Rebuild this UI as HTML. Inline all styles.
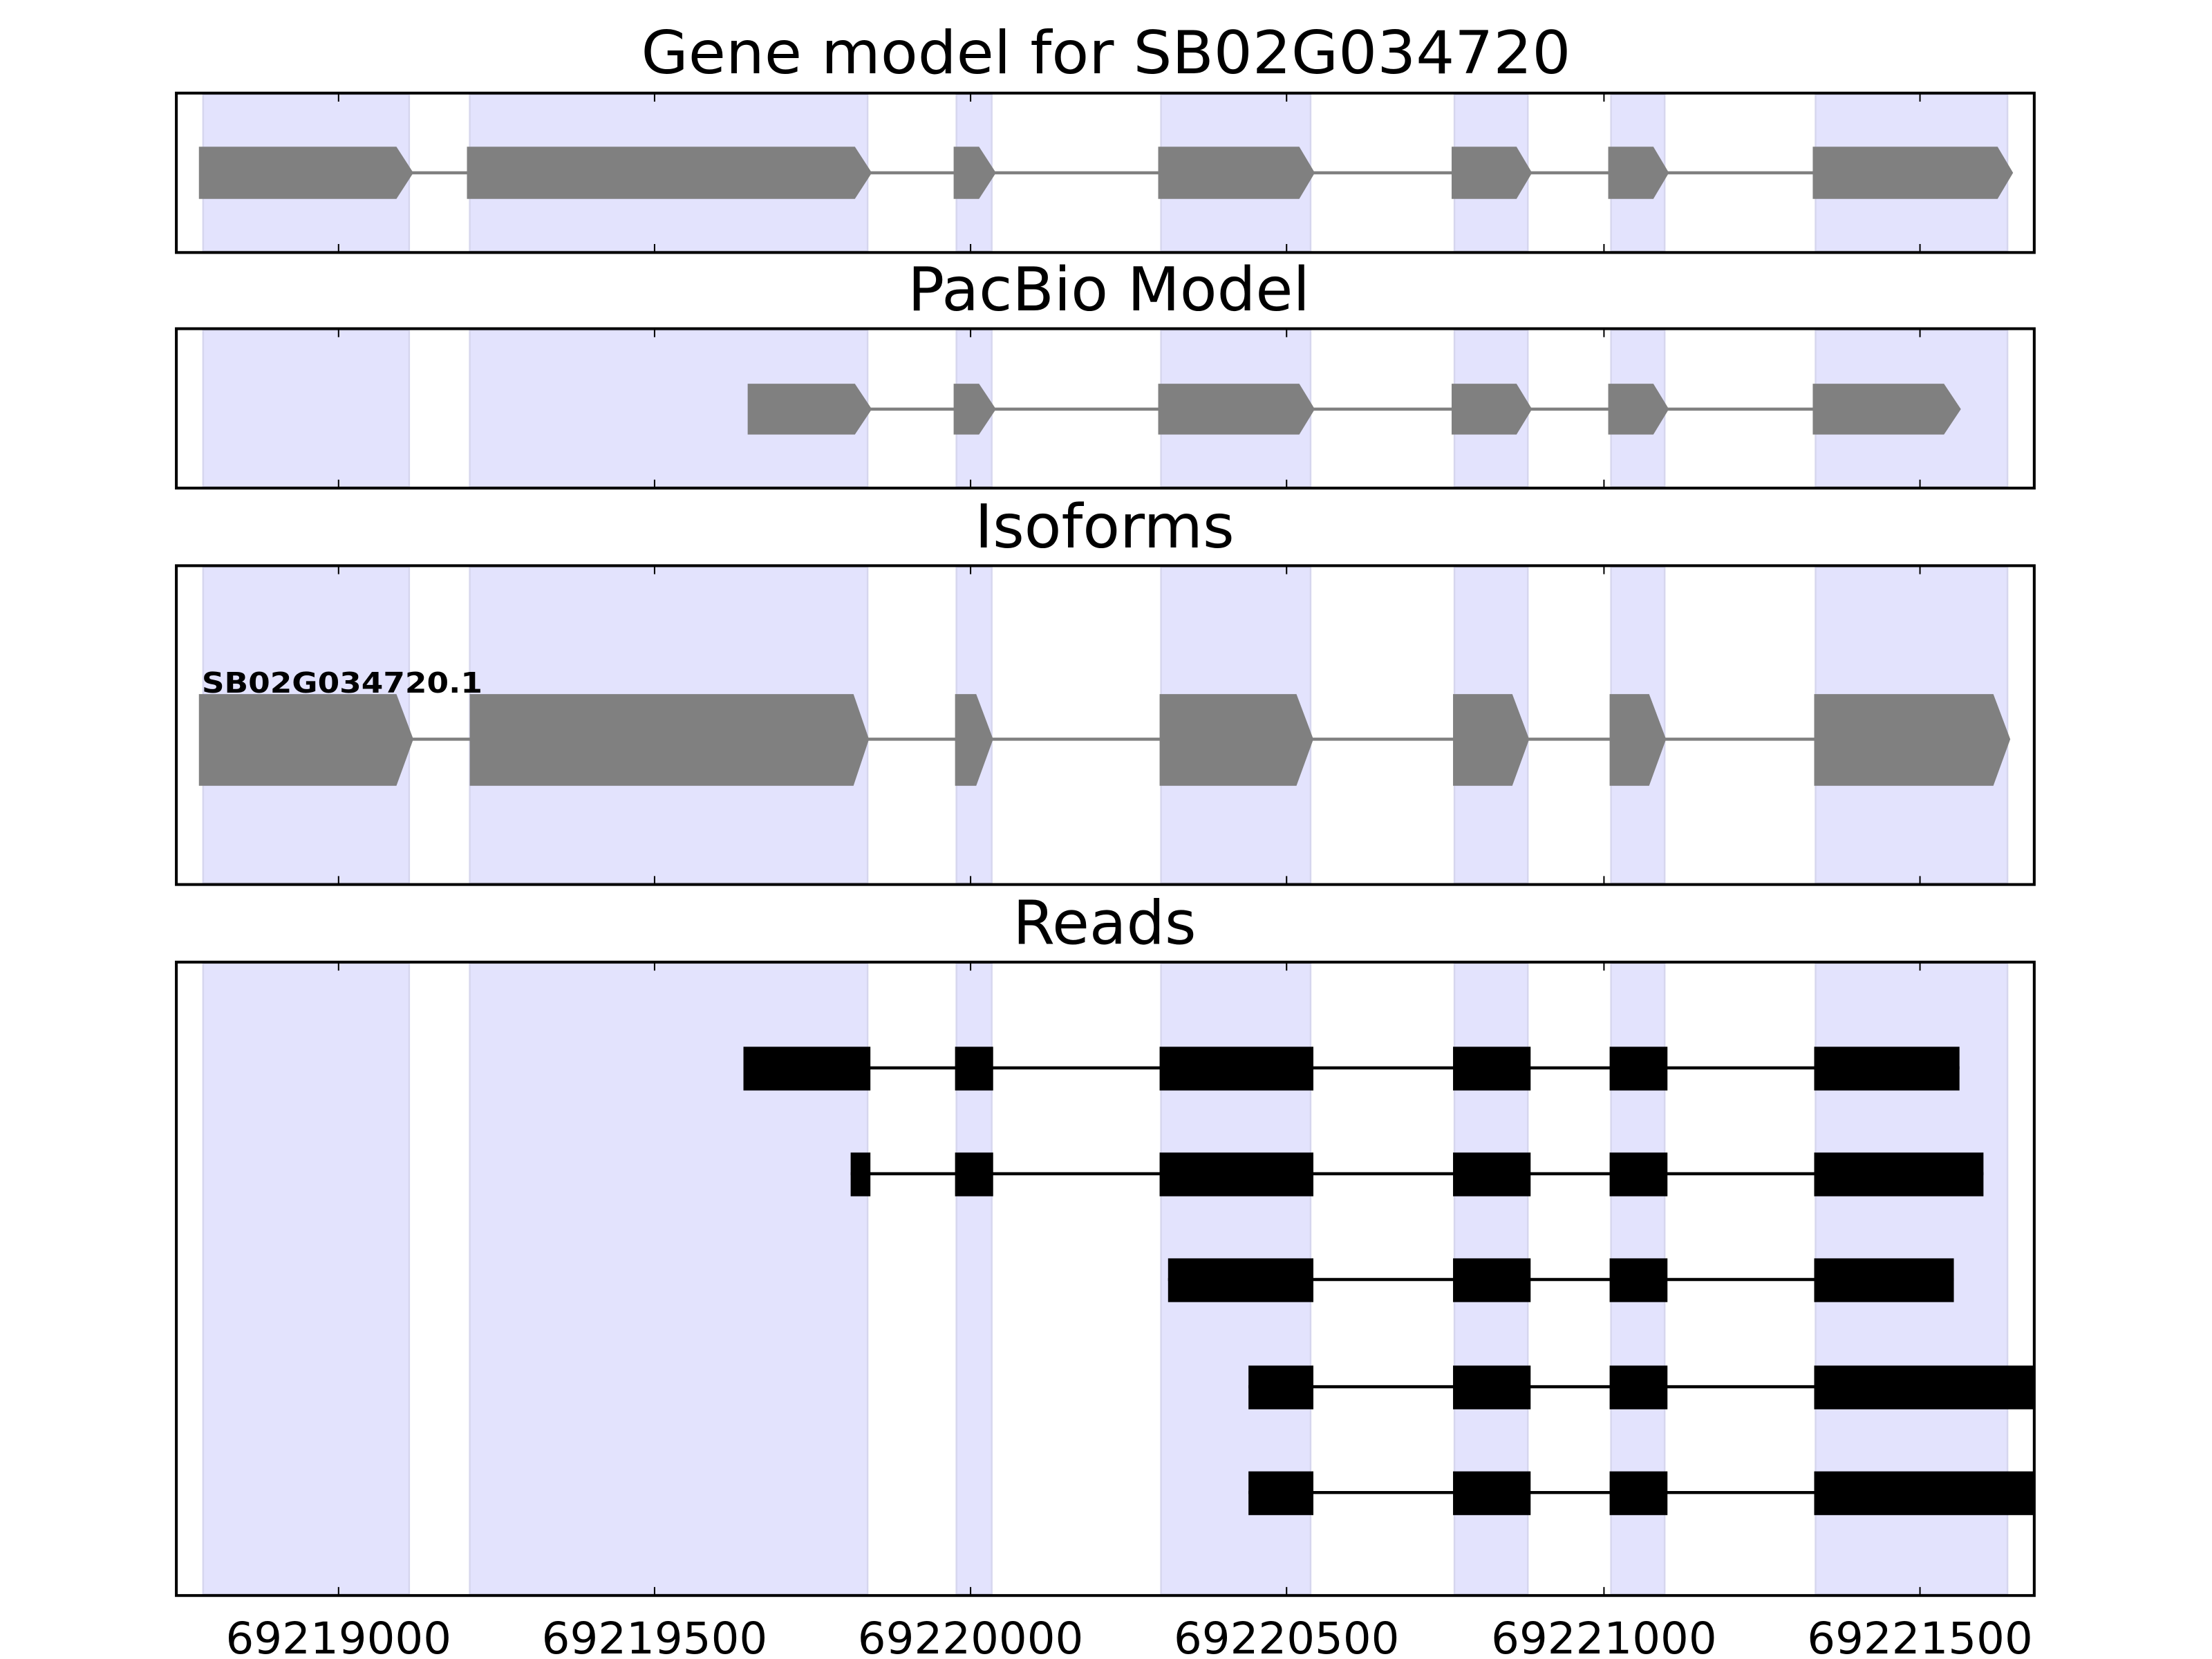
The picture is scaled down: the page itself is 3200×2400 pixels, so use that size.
<!DOCTYPE html>
<html><head><meta charset="utf-8"><style>html,body{margin:0;padding:0;background:#fff}svg{display:block}</style></head>
<body>
<svg xmlns="http://www.w3.org/2000/svg" width="3200" height="2400" viewBox="0 0 1568 1176" font-family="'DejaVu Sans','Liberation Sans',sans-serif">
<rect width="1568" height="1176" fill="#fff"/>
<!-- Titles -->
<text x="784" y="52" font-size="42" text-anchor="middle" textLength="659" lengthAdjust="spacingAndGlyphs">Gene model for SB02G034720</text>
<text x="786" y="220" font-size="43" text-anchor="middle" textLength="285" lengthAdjust="spacingAndGlyphs">PacBio Model</text>
<text x="783" y="388" font-size="43" text-anchor="middle" textLength="184" lengthAdjust="spacingAndGlyphs">Isoforms</text>
<text x="783" y="669" font-size="43" text-anchor="middle" textLength="130" lengthAdjust="spacingAndGlyphs">Reads</text>

<g fill="#e3e3fd" stroke="#d6d6ee" stroke-width="1.2">
<rect x="144" y="67" width="146" height="111"/><rect x="333" y="67" width="282" height="111"/><rect x="678" y="67" width="25" height="111"/><rect x="823" y="67" width="106" height="111"/><rect x="1031" y="67" width="52" height="111"/><rect x="1142" y="67" width="38" height="111"/><rect x="1287" y="67" width="136" height="111"/>
<rect x="144" y="234" width="146" height="111"/><rect x="333" y="234" width="282" height="111"/><rect x="678" y="234" width="25" height="111"/><rect x="823" y="234" width="106" height="111"/><rect x="1031" y="234" width="52" height="111"/><rect x="1142" y="234" width="38" height="111"/><rect x="1287" y="234" width="136" height="111"/>
<rect x="144" y="402" width="146" height="224"/><rect x="333" y="402" width="282" height="224"/><rect x="678" y="402" width="25" height="224"/><rect x="823" y="402" width="106" height="224"/><rect x="1031" y="402" width="52" height="224"/><rect x="1142" y="402" width="38" height="224"/><rect x="1287" y="402" width="136" height="224"/>
<rect x="144" y="683" width="146" height="447"/><rect x="333" y="683" width="282" height="447"/><rect x="678" y="683" width="25" height="447"/><rect x="823" y="683" width="106" height="447"/><rect x="1031" y="683" width="52" height="447"/><rect x="1142" y="683" width="38" height="447"/><rect x="1287" y="683" width="136" height="447"/>
</g>

<line x1="281" y1="122.5" x2="1416" y2="122.5" stroke="#808080" stroke-width="2.2"/>
<g fill="#808080">
<polygon points="141,104 281,104 293,122.5 281,141 141,141"/>
<polygon points="331,104 606,104 618,122.5 606,141 331,141"/>
<polygon points="676,104 694,104 706,122.5 694,141 676,141"/>
<polygon points="821,104 921,104 932,122.5 921,141 821,141"/>
<polygon points="1029,104 1075,104 1086,122.5 1075,141 1029,141"/>
<polygon points="1140,104 1172,104 1183,122.5 1172,141 1140,141"/>
<polygon points="1285,104 1416,104 1427,122.5 1416,141 1285,141"/>
</g>

<line x1="606" y1="290" x2="1378" y2="290" stroke="#808080" stroke-width="2.2"/>
<g fill="#808080">
<polygon points="530,272 606,272 618,290 606,308 530,308"/>
<polygon points="676,272 694,272 706,290 694,308 676,308"/>
<polygon points="821,272 921,272 932,290 921,308 821,308"/>
<polygon points="1029,272 1075,272 1086,290 1075,308 1029,308"/>
<polygon points="1140,272 1172,272 1183,290 1172,308 1140,308"/>
<polygon points="1285,272 1378,272 1390,290 1378,308 1285,308"/>
</g>

<line x1="281" y1="524" x2="1413" y2="524" stroke="#808080" stroke-width="2.2"/>
<g fill="#808080">
<polygon points="141,492 281,492 293,524 281,557 141,557"/>
<polygon points="333,492 605,492 616,524 605,557 333,557"/>
<polygon points="677,492 692,492 704,524 692,557 677,557"/>
<polygon points="822,492 919,492 931,524 919,557 822,557"/>
<polygon points="1030,492 1072,492 1084,524 1072,557 1030,557"/>
<polygon points="1141,492 1169,492 1181,524 1169,557 1141,557"/>
<polygon points="1286,492 1413,492 1425,524 1413,557 1286,557"/>
</g>
<text x="143" y="491" font-size="20" font-weight="bold" textLength="199" lengthAdjust="spacingAndGlyphs">SB02G034720.1</text>

<g stroke="#000" stroke-width="2.2">
<line x1="527" y1="757" x2="1389" y2="757"/>
<line x1="603" y1="832" x2="1406" y2="832"/>
<line x1="828" y1="907" x2="1385" y2="907"/>
<line x1="885" y1="983" x2="1442" y2="983"/>
<line x1="885" y1="1058" x2="1442" y2="1058"/>
</g>
<g fill="#000">
<rect x="527" y="742" width="90" height="31"/><rect x="677" y="742" width="27" height="31"/><rect x="822" y="742" width="109" height="31"/><rect x="1030" y="742" width="55" height="31"/><rect x="1141" y="742" width="41" height="31"/><rect x="1286" y="742" width="103" height="31"/>
<rect x="603" y="817" width="14" height="31"/><rect x="677" y="817" width="27" height="31"/><rect x="822" y="817" width="109" height="31"/><rect x="1030" y="817" width="55" height="31"/><rect x="1141" y="817" width="41" height="31"/><rect x="1286" y="817" width="120" height="31"/>
<rect x="828" y="892" width="103" height="31"/><rect x="1030" y="892" width="55" height="31"/><rect x="1141" y="892" width="41" height="31"/><rect x="1286" y="892" width="99" height="31"/>
<rect x="885" y="968" width="46" height="31"/><rect x="1030" y="968" width="55" height="31"/><rect x="1141" y="968" width="41" height="31"/><rect x="1286" y="968" width="156" height="31"/>
<rect x="885" y="1043" width="46" height="31"/><rect x="1030" y="1043" width="55" height="31"/><rect x="1141" y="1043" width="41" height="31"/><rect x="1286" y="1043" width="156" height="31"/>
</g>

<g fill="none" stroke="#000" stroke-width="2">
<rect x="125" y="66" width="1317" height="113"/>
<rect x="125" y="233" width="1317" height="113"/>
<rect x="125" y="401" width="1317" height="226"/>
<rect x="125" y="682" width="1317" height="449"/>
</g>
<g stroke="#000" stroke-width="1">
<path d="M240 66v6M464 66v6M688 66v6M912 66v6M1137 66v6M1361 66v6 M240 179v-6M464 179v-6M688 179v-6M912 179v-6M1137 179v-6M1361 179v-6"/>
<path d="M240 233v6M464 233v6M688 233v6M912 233v6M1137 233v6M1361 233v6 M240 346v-6M464 346v-6M688 346v-6M912 346v-6M1137 346v-6M1361 346v-6"/>
<path d="M240 401v6M464 401v6M688 401v6M912 401v6M1137 401v6M1361 401v6 M240 627v-6M464 627v-6M688 627v-6M912 627v-6M1137 627v-6M1361 627v-6"/>
<path d="M240 682v6M464 682v6M688 682v6M912 682v6M1137 682v6M1361 682v6 M240 1131v-6M464 1131v-6M688 1131v-6M912 1131v-6M1137 1131v-6M1361 1131v-6"/>
</g>
<g font-size="31" text-anchor="middle">
<text x="240" y="1172" textLength="160" lengthAdjust="spacingAndGlyphs">69219000</text>
<text x="464" y="1172" textLength="160" lengthAdjust="spacingAndGlyphs">69219500</text>
<text x="688" y="1172" textLength="160" lengthAdjust="spacingAndGlyphs">69220000</text>
<text x="912" y="1172" textLength="160" lengthAdjust="spacingAndGlyphs">69220500</text>
<text x="1137" y="1172" textLength="160" lengthAdjust="spacingAndGlyphs">69221000</text>
<text x="1361" y="1172" textLength="160" lengthAdjust="spacingAndGlyphs">69221500</text>
</g>
</svg>
</body></html>
